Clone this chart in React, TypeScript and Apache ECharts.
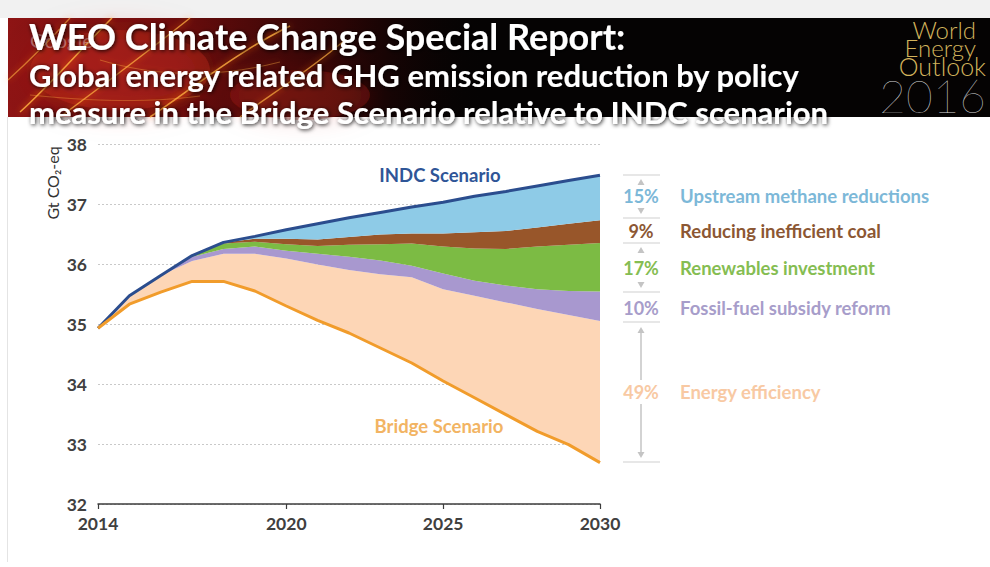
import React, { useEffect, useRef } from "react";
import * as echarts from "echarts";

// ---- data (Gt CO2-eq) ----
const years = ["2014","2015","2016","2017","2018","2019","2020","2021","2022","2023","2024","2025","2026","2027","2028","2029","2030"];
const xTickLabels = ["2014", "2020", "2025", "2030"];
const indcScenario = [34.93, 35.47, 35.81, 36.14, 36.36, 36.46, 36.57, 36.67, 36.77, 36.86, 36.95, 37.03, 37.13, 37.21, 37.3, 37.39, 37.48];
const coalTop = [34.93, 35.47, 35.81, 36.14, 36.36, 36.42, 36.42, 36.41, 36.45, 36.49, 36.51, 36.51, 36.53, 36.55, 36.61, 36.67, 36.73];
const renewablesTop = [34.93, 35.47, 35.81, 36.14, 36.34, 36.37, 36.33, 36.3, 36.32, 36.33, 36.34, 36.29, 36.26, 36.25, 36.29, 36.32, 36.35];
const subsidyTop = [34.93, 35.47, 35.81, 36.12, 36.25, 36.29, 36.22, 36.17, 36.12, 36.06, 35.97, 35.84, 35.72, 35.64, 35.58, 35.55, 35.54];
const efficiencyTop = [34.93, 35.47, 35.81, 36.05, 36.17, 36.17, 36.09, 35.99, 35.9, 35.83, 35.78, 35.58, 35.47, 35.36, 35.25, 35.15, 35.05];
const bridgeScenario = [34.93, 35.33, 35.53, 35.71, 35.71, 35.55, 35.3, 35.06, 34.85, 34.6, 34.35, 34.05, 33.77, 33.49, 33.21, 32.99, 32.69];

const measureNames = ["Upstream methane reductions", "Reducing inefficient coal", "Renewables investment", "Fossil-fuel subsidy reform", "Energy efficiency"];
const measureShares = ["15%", "9%", "17%", "10%", "49%"];
const measureColors = ["#8ecbe7", "#98562a", "#7cbb44", "#a898cf", "#fdd6b6"];
const measureTextColors = ["#7cb8d8", "#8c5733", "#85bd52", "#a79dca", "#f8c9a3"];

const CHART_FONT = "Lato, 'Open Sans', 'Noto Sans', sans-serif";

const diff = (a: number[], b: number[]) => a.map((v, i) => +(v - b[i]).toFixed(3));

export default function App() {
  const ref = useRef<HTMLDivElement>(null);

  useEffect(() => {
    if (!ref.current) return;
    const chart = echarts.init(ref.current, undefined, { renderer: "svg" });

    const wedgeSeries = [
      { name: "base", data: bridgeScenario, color: "transparent", area: false },
      { name: measureNames[4], data: diff(efficiencyTop, bridgeScenario), color: measureColors[4], area: true },
      { name: measureNames[3], data: diff(subsidyTop, efficiencyTop), color: measureColors[3], area: true },
      { name: measureNames[2], data: diff(renewablesTop, subsidyTop), color: measureColors[2], area: true },
      { name: measureNames[1], data: diff(coalTop, renewablesTop), color: measureColors[1], area: true },
      { name: measureNames[0], data: diff(indcScenario, coalTop), color: measureColors[0], area: true },
    ].map((s) => ({
      name: s.name,
      type: "line",
      stack: "wedges",
      data: s.data,
      symbol: "none",
      silent: true,
      lineStyle: { width: 0, opacity: 0 },
      areaStyle: s.area ? { color: s.color, opacity: 1 } : undefined,
      z: 2,
    }));

    // legend-side graphics (percent column, arrows, labels)
    const rowY = [196, 231, 268, 308, 392];
    const sepY = [175, 218, 243, 292, 322, 462];
    const colX = 641;
    const grey = "#c4c4c4";
    const legendGraphics: any[] = [];
    sepY.forEach((y) => {
      legendGraphics.push({ type: "line", shape: { x1: 623, y1: y, x2: 660, y2: y }, style: { stroke: "#cfcfcf", lineWidth: 1 } });
    });
    const arrowHead = (x: number, y: number, up: boolean) => ({
      type: "polygon",
      shape: { points: up ? [[x, y], [x - 3.5, y + 6], [x + 3.5, y + 6]] : [[x, y], [x - 3.5, y - 6], [x + 3.5, y - 6]] },
      style: { fill: grey },
    });
    [[178, 215], [246, 289]].forEach(([a, b]) => {
      legendGraphics.push(arrowHead(colX, a + 1, true));
      legendGraphics.push(arrowHead(colX, b - 1, false));
    });
    legendGraphics.push({ type: "line", shape: { x1: colX, y1: 330, x2: colX, y2: 380 }, style: { stroke: grey, lineWidth: 1.5 } });
    legendGraphics.push(arrowHead(colX, 327, true));
    legendGraphics.push({ type: "line", shape: { x1: colX, y1: 404, x2: colX, y2: 454 }, style: { stroke: grey, lineWidth: 1.5 } });
    legendGraphics.push(arrowHead(colX, 458, false));
    measureNames.forEach((n, i) => {
      legendGraphics.push({
        type: "text", x: colX, y: rowY[i],
        style: { text: measureShares[i], fill: measureTextColors[i], font: `bold 18px ${CHART_FONT}`, align: "center", verticalAlign: "middle" },
      });
      legendGraphics.push({
        type: "text", x: 680, y: rowY[i],
        style: { text: n, fill: measureTextColors[i], font: `bold 18.5px ${CHART_FONT}`, align: "left", verticalAlign: "middle" },
      });
    });

    const streak = (x1: number, y1: number, cx1: number, cy1: number, cx2: number, cy2: number, x2: number, y2: number, w: number, op: number) => ({
      type: "bezierCurve",
      shape: { x1, y1, cpx1: cx1, cpy1: cy1, cpx2: cx2, cpy2: cy2, x2, y2 },
      style: { stroke: "#ffb040", lineWidth: w, opacity: op, fill: null, shadowBlur: 6, shadowColor: "#ff6a00" },
    });

    const titleShadow = { textShadowBlur: 4, textShadowColor: "rgba(0,0,0,0.9)", textShadowOffsetX: 1, textShadowOffsetY: 1 };

    const headerGraphics: any[] = [
      { type: "rect", shape: { x: 0, y: 0, width: 990, height: 18 }, style: { fill: "#f1f1f1" } },
      { type: "rect", shape: { x: 8, y: 18, width: 982, height: 99 }, style: { fill: "#050303" } },
      {
        type: "rect", shape: { x: 8, y: 18, width: 480, height: 99 },
        style: {
          fill: new echarts.graphic.LinearGradient(0, 0, 1, 0, [
            { offset: 0, color: "#8e1414" },
            { offset: 0.35, color: "#6a0c0c" },
            { offset: 0.7, color: "#2a0505" },
            { offset: 1, color: "rgba(5,3,3,0)" },
          ]),
        },
      },
      { type: "ellipse", shape: { cx: 120, cy: 70, rx: 90, ry: 40 }, style: { fill: "rgba(200,40,30,0.35)", shadowBlur: 30, shadowColor: "rgba(220,50,30,0.6)" } },
      { type: "ellipse", shape: { cx: 300, cy: 95, rx: 70, ry: 25 }, style: { fill: "rgba(180,30,20,0.3)", shadowBlur: 25, shadowColor: "rgba(200,40,20,0.5)" } },
      streak(20, 112, 50, 85, 80, 50, 112, 18, 1.5, 0.85),
      streak(8, 80, 30, 60, 50, 40, 70, 18, 1.2, 0.6),
      streak(60, 117, 110, 80, 150, 50, 190, 18, 1.4, 0.75),
      streak(150, 117, 190, 90, 240, 50, 290, 26, 1.6, 0.8),
      streak(240, 117, 270, 95, 310, 70, 345, 40, 1.3, 0.7),
      streak(100, 60, 150, 75, 210, 80, 280, 62, 1, 0.4),
      streak(30, 95, 80, 100, 140, 104, 200, 96, 1, 0.35),
      {
        type: "text", x: 30, y: 40,
        style: { text: "Google", fill: "rgba(235,200,200,0.5)", font: `20px ${CHART_FONT}`, align: "left", verticalAlign: "middle" },
      },
      {
        type: "text", x: 29, y: 36,
        style: { text: "WEO Climate Change Special Report:", fill: "#ffffff", font: `bold 36px ${CHART_FONT}`, align: "left", verticalAlign: "middle", ...titleShadow },
      },
      {
        type: "text", x: 29, y: 75,
        style: { text: "Global energy related GHG emission reduction by policy", fill: "#ffffff", font: `bold 31px ${CHART_FONT}`, align: "left", verticalAlign: "middle", ...titleShadow },
      },
      {
        type: "text", x: 29, y: 112,
        style: { text: "measure in the Bridge Scenario relative to INDC scenarion", fill: "#ffffff", font: `bold 31px ${CHART_FONT}`, align: "left", verticalAlign: "middle", ...titleShadow },
      },
      {
        type: "text", x: 986, y: 20,
        style: {
          text: "{g|World}\n{g|Energy}\n{o|Outlook}\n{y|2016}",
          align: "right",
          verticalAlign: "top",
          rich: {
            g: { fill: "#d2b35c", fontFamily: CHART_FONT, fontWeight: 300, fontSize: 24, lineHeight: 18.5, align: "right", padding: [0, 10, 0, 0] },
            o: { fill: "#d2b35c", fontFamily: CHART_FONT, fontWeight: 300, fontSize: 25, lineHeight: 18.5, align: "right" },
            y: { fill: "#d9d9d9", fontFamily: CHART_FONT, fontWeight: 200, fontSize: 46, lineHeight: 40, align: "right" },
          },
        },
      },
      { type: "line", shape: { x1: 7.5, y1: 117, x2: 7.5, y2: 562 }, style: { stroke: "#e4e4e4", lineWidth: 1 } },
    ];

    const labelGraphics: any[] = [
      {
        type: "text", x: 52, y: 183, rotation: Math.PI / 2,
        style: { text: "Gt CO₂-eq", fill: "#333333", font: `16px ${CHART_FONT}`, align: "center", verticalAlign: "middle" },
      },
      {
        type: "text", x: 440, y: 175,
        style: { text: "INDC Scenario", fill: "#2f5597", font: `bold 18.5px ${CHART_FONT}`, align: "center", verticalAlign: "middle" },
      },
      {
        type: "text", x: 439, y: 426,
        style: { text: "Bridge Scenario", fill: "#f2b463", font: `bold 18.5px ${CHART_FONT}`, align: "center", verticalAlign: "middle" },
      },
    ];

    chart.setOption({
      animation: false,
      backgroundColor: "#ffffff",
      textStyle: { fontFamily: CHART_FONT },
      grid: { left: 98, right: 390, top: 144, bottom: 63, containLabel: false },
      xAxis: {
        type: "category",
        data: years,
        boundaryGap: false,
        axisLine: { show: true, lineStyle: { color: "#3c3c3c", width: 1.5 } },
        axisTick: {
          show: true,
          length: 5,
          interval: (i: number, v: string) => xTickLabels.includes(v),
          lineStyle: { color: "#3c3c3c", width: 1.2 },
        },
        axisLabel: {
          interval: (i: number, v: string) => xTickLabels.includes(v),
          color: "#404040",
          fontSize: 17.5,
          fontWeight: "bold",
          margin: 10,
          fontFamily: CHART_FONT,
        },
        splitLine: { show: false },
      },
      yAxis: {
        type: "value",
        min: 32,
        max: 38,
        interval: 1,
        axisLine: { show: false },
        axisTick: { show: false },
        axisLabel: { color: "#404040", fontSize: 17.5, fontWeight: "bold", margin: 11, fontFamily: CHART_FONT },
        splitLine: { show: true, lineStyle: { color: "#c9c9c9", type: [2, 2], width: 1 } },
      },
      series: [
        ...wedgeSeries,
        {
          name: "INDC Scenario",
          type: "line",
          data: indcScenario,
          symbol: "none",
          lineStyle: { color: "#2b4d8e", width: 3 },
          z: 5,
        },
        {
          name: "Bridge Scenario",
          type: "line",
          data: bridgeScenario,
          symbol: "none",
          lineStyle: { color: "#f19c2b", width: 3 },
          z: 5,
        },
      ],
      graphic: [...headerGraphics, ...labelGraphics, ...legendGraphics],
    });

    return () => chart.dispose();
  }, []);

  return <div ref={ref} style={{ position: "absolute", left: 0, top: 0, width: 990, height: 567 }} />;
}
